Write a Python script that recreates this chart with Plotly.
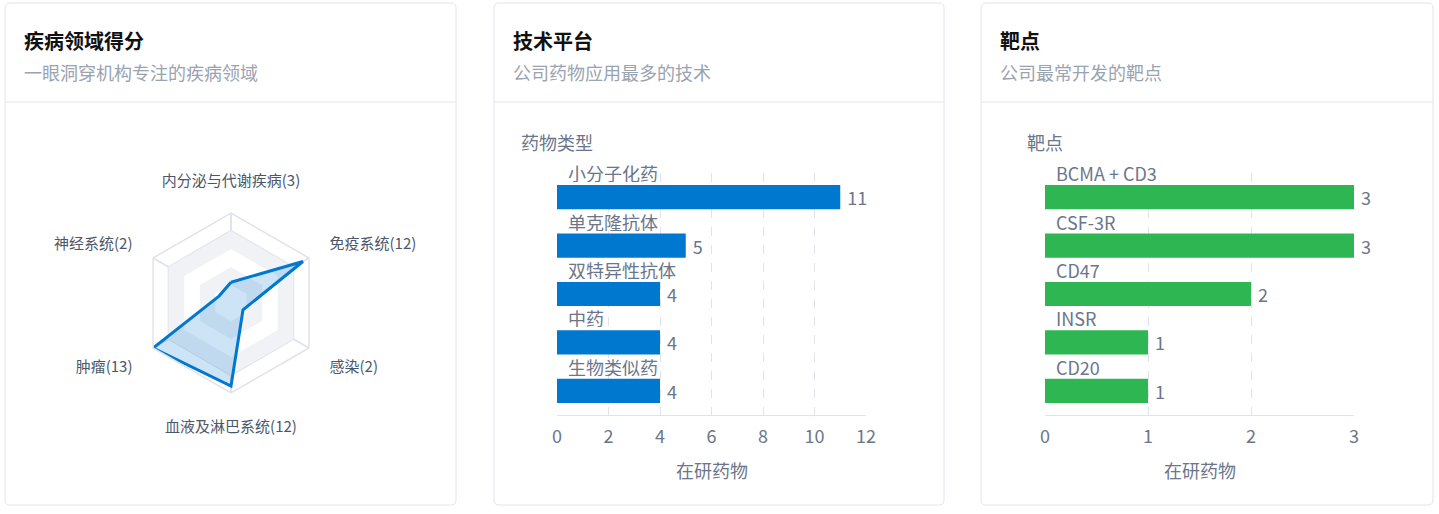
import plotly.graph_objects as go

W, H = 1439, 514

# ---------------- data ----------------
radar_axes = ["内分泌与代谢疾病", "免疫系统", "感染", "血液及淋巴系统", "肿瘤", "神经系统"]
radar_values = [3, 12, 2, 12, 13, 2]
radar_max = 13

tech_categories = ["小分子化药", "单克隆抗体", "双特异性抗体", "中药", "生物类似药"]
tech_values = [11, 5, 4, 4, 4]
tech_ticks = [0, 2, 4, 6, 8, 10, 12]

target_categories = ["BCMA + CD3", "CSF-3R", "CD47", "INSR", "CD20"]
target_values = [3, 3, 2, 1, 1]
target_ticks = [0, 1, 2, 3]

cards = [
    ("疾病领域得分", "一眼洞穿机构专注的疾病领域"),
    ("技术平台", "公司药物应用最多的技术"),
    ("靶点", "公司最常开发的靶点"),
]

# ---------------- style ----------------
FONT = "Noto Sans CJK SC, Noto Sans, sans-serif"
BLUE = "#0078d0"
GREEN = "#2db652"
GRID = "#e0e3e9"
LABEL = "#6b768b"
RADAR_LABEL = "#4c5669"

def px(x):
    return x / W

def py(y):
    return 1 - y / H

fig = go.Figure()
shapes = []
annotations = []

# cards
card_x = [(5, 456), (494, 944), (981, 1433)]
top, bot, r = 3, 505, 5
for (x0, x1), (title, sub) in zip(card_x, cards):
    rx, ry = r / W, r / H
    X0, X1, Y0, Y1 = px(x0), px(x1), py(bot), py(top)
    path = (f"M{X0+rx},{Y1} L{X1-rx},{Y1} Q{X1},{Y1} {X1},{Y1-ry} "
            f"L{X1},{Y0+ry} Q{X1},{Y0} {X1-rx},{Y0} L{X0+rx},{Y0} "
            f"Q{X0},{Y0} {X0},{Y0+ry} L{X0},{Y1-ry} Q{X0},{Y1} {X0+rx},{Y1} Z")
    shapes.append(dict(type="path", path=path, xref="paper", yref="paper",
                       line=dict(color="#e2e4ea", width=1), fillcolor="white", layer="below"))
    shapes.append(dict(type="line", xref="paper", yref="paper", x0=X0, x1=X1,
                       y0=py(102), y1=py(102), line=dict(color="#e2e4ea", width=1)))
    annotations.append(dict(text=f"<b>{title}</b>", x=px(x0 + 19), y=py(41), xref="paper", yref="paper",
                            xanchor="left", yanchor="middle", showarrow=False, borderpad=0, borderwidth=0,
                            font=dict(family=FONT, size=20, color="#111111")))
    annotations.append(dict(text=sub, x=px(x0 + 19), y=py(72), xref="paper", yref="paper",
                            xanchor="left", yanchor="middle", showarrow=False, borderpad=0, borderwidth=0,
                            font=dict(family=FONT, size=18, color="#9aa3b0")))

# ---------------- radar ----------------
theta_closed = radar_axes + [radar_axes[0]]
levels = [radar_max * k / 5 for k in range(1, 6)]
band_fill = [(levels[3], "#f1f2f5"), (levels[2], "white"), (levels[1], "#f1f2f5"), (levels[0], "white")]
for lv, col in band_fill:
    fig.add_trace(go.Scatterpolar(r=[lv] * 7, theta=theta_closed, mode="lines", fill="toself",
                                  fillcolor=col, line=dict(width=0, color=col),
                                  hoverinfo="skip", showlegend=False, subplot="polar"))
fig.add_trace(go.Scatterpolar(r=radar_values + [radar_values[0]], theta=theta_closed,
                              mode="lines", fill="toself", fillcolor="rgba(0,120,208,0.2)",
                              line=dict(color=BLUE, width=3), showlegend=False, subplot="polar"))

radar_ticktext = [f"{a}({v})" for a, v in zip(radar_axes, radar_values)]
cx, cy, R = 231, 303, 90

# ---------------- bars ----------------
fig.add_trace(go.Bar(x=tech_values, y=tech_categories, orientation="h", xaxis="x", yaxis="y",
                     marker=dict(color=BLUE, line=dict(width=0)), width=0.5,
                     text=[f" {v}" for v in tech_values], textposition="outside", cliponaxis=False,
                     constraintext="none",
                     textfont=dict(family=FONT, size=18, color=LABEL), showlegend=False))
fig.add_trace(go.Bar(x=target_values, y=target_categories, orientation="h", xaxis="x2", yaxis="y2",
                     marker=dict(color=GREEN, line=dict(width=0)), width=0.5,
                     text=[f" {v}" for v in target_values], textposition="outside", cliponaxis=False,
                     constraintext="none",
                     textfont=dict(family=FONT, size=18, color=LABEL), showlegend=False))

for cats, xa, ya in [(tech_categories, "x", "y"), (target_categories, "x2", "y2")]:
    for c in cats:
        annotations.append(dict(text=c, x=0, y=c, xref=xa, yref=ya, xanchor="left", yanchor="middle",
                                xshift=11, yshift=24, showarrow=False, bgcolor="white",
                                height=18, valign="middle",
                                borderpad=0, borderwidth=0, font=dict(family=FONT, size=18, color=LABEL)))

annotations += [
    dict(text="药物类型", x=px(521), y=py(142), xref="paper", yref="paper", xanchor="left",
         yanchor="middle", showarrow=False, borderpad=0, borderwidth=0,
         font=dict(family=FONT, size=18, color=LABEL)),
    dict(text="靶点", x=px(1027), y=py(142), xref="paper", yref="paper", xanchor="left",
         yanchor="middle", showarrow=False, borderpad=0, borderwidth=0,
         font=dict(family=FONT, size=18, color=LABEL)),
    dict(text="在研药物", x=px(711.5), y=py(470), xref="paper", yref="paper", xanchor="center",
         yanchor="middle", showarrow=False, font=dict(family=FONT, size=18, color=LABEL)),
    dict(text="在研药物", x=px(1199.5), y=py(470), xref="paper", yref="paper", xanchor="center",
         yanchor="middle", showarrow=False, font=dict(family=FONT, size=18, color=LABEL)),
]

def xaxis(domain, rng, ticks):
    return dict(domain=domain, range=rng, tickvals=ticks, showgrid=True, gridcolor=GRID,
                griddash="dash", gridwidth=1, zeroline=False, showline=True, linecolor=GRID,
                linewidth=1, ticks="outside", ticklen=5, tickcolor="rgba(0,0,0,0)",
                automargin=False,
                tickfont=dict(family=FONT, size=18, color=LABEL), fixedrange=True)

def yaxis(domain, anchor, n):
    return dict(domain=domain, anchor=anchor, range=[n - 0.5, -0.5], showticklabels=False,
                automargin=False,
                showgrid=False, zeroline=False, showline=False, fixedrange=True)

ydom = [py(415), py(173)]
fig.update_layout(
    width=W, height=H, margin=dict(l=0, r=0, t=0, b=0, pad=0, autoexpand=False),
    paper_bgcolor="white", plot_bgcolor="rgba(0,0,0,0)",
    font=dict(family=FONT),
    bargap=0.5,
    xaxis=xaxis([px(557), px(866)], [0, 12], tech_ticks),
    yaxis=yaxis(ydom, "x", len(tech_categories)),
    xaxis2=xaxis([px(1045), px(1354)], [0, 3], target_ticks) | dict(anchor="y2"),
    yaxis2=yaxis(ydom, "x2", len(target_categories)),
    polar=dict(
        domain=dict(x=[px(cx - R), px(cx + R)], y=[py(cy + R), py(cy - R)]),
        bgcolor="rgba(0,0,0,0)",
        gridshape="linear",
        radialaxis=dict(range=[0, radar_max], tickvals=levels, showticklabels=False, ticks="",
                        showline=False, gridcolor=GRID, gridwidth=1.5, layer="above traces"),
        angularaxis=dict(rotation=90, direction="clockwise", showline=True, linecolor=GRID,
                         linewidth=1.5, gridcolor=GRID, gridwidth=1.5,
                         tickvals=radar_axes, ticktext=radar_ticktext,
                         ticks="outside", ticklen=20, tickcolor="rgba(0,0,0,0)",
                         tickfont=dict(family=FONT, size=15, color=RADAR_LABEL)),
    ),
    shapes=shapes,
    annotations=annotations,
)

fig.write_html("out.html", config={"displayModeBar": False},
               post_script="document.documentElement.style.overflow='hidden';"
                           "document.body.style.margin='0';document.body.style.overflow='hidden';")
